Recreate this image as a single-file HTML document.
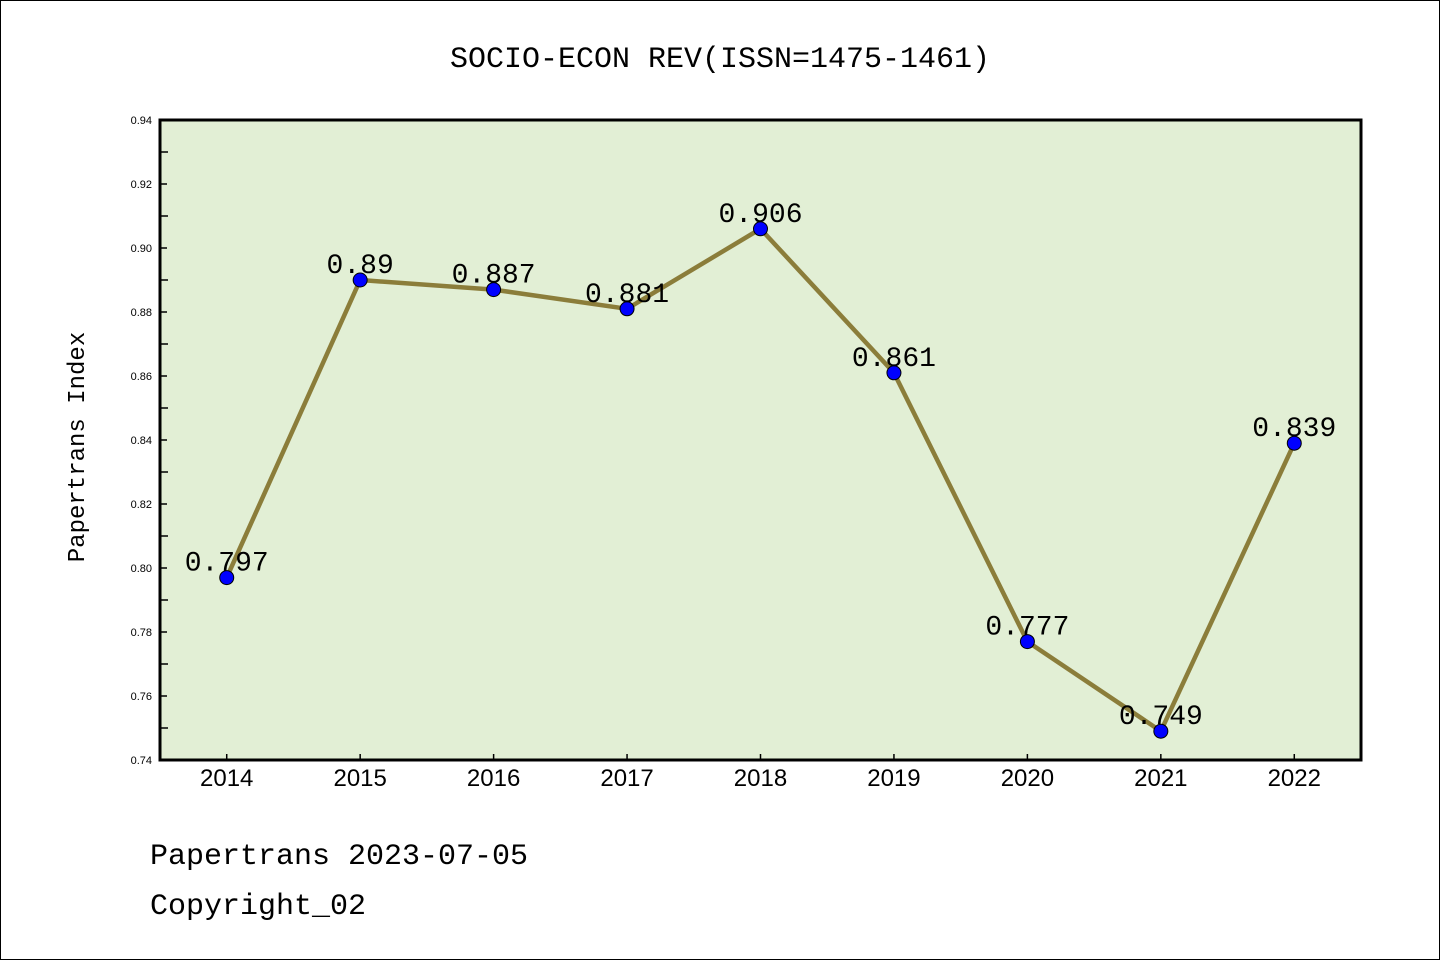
<!DOCTYPE html>
<html><head><meta charset="utf-8"><style>
body{margin:0;background:#fff}
svg{display:block}
</style></head><body>
<svg width="1440" height="960" xmlns="http://www.w3.org/2000/svg">
<rect x="0.5" y="0.5" width="1439" height="959" fill="#fff" stroke="#000" stroke-width="1"/>
<text x="720" y="67" text-anchor="middle" font-family="'WenQuanYi Zen Hei','Liberation Mono',monospace" font-size="30">SOCIO-ECON REV(ISSN=1475-1461)</text>
<rect x="160" y="120" width="1201" height="640" fill="#e2efd5"/>
<g id="ticks"></g>
<g id="series"></g>
<rect x="160" y="120" width="1201" height="640" fill="none" stroke="#000" stroke-width="3"/>
<text transform="translate(84,447) rotate(-90)" text-anchor="middle" font-family="'WenQuanYi Zen Hei','Liberation Mono',monospace" font-size="24">Papertrans Index</text>
<text x="150" y="864" font-family="'WenQuanYi Zen Hei','Liberation Mono',monospace" font-size="30">Papertrans 2023-07-05</text>
<text x="150" y="914" font-family="'WenQuanYi Zen Hei','Liberation Mono',monospace" font-size="30">Copyright_02</text>
</svg>
<script>
const categories=["2014","2015","2016","2017","2018","2019","2020","2021","2022"];
const values=[0.797,0.89,0.887,0.881,0.906,0.861,0.777,0.749,0.839];
const valueLabels=["0.797","0.89","0.887","0.881","0.906","0.861","0.777","0.749","0.839"];
const yTicks=[0.74,0.76,0.78,0.80,0.82,0.84,0.86,0.88,0.90,0.92,0.94];
const yTickLabels=["0.74","0.76","0.78","0.80","0.82","0.84","0.86","0.88","0.90","0.92","0.94"];
const NS="http://www.w3.org/2000/svg";
const L=160,R=1361,T=120,B=760,yMin=0.74,yMax=0.94;
const step=(R-L)/categories.length;
const xs=i=>L+step*(i+0.5);
const ys=v=>B-(v-yMin)/(yMax-yMin)*(B-T);
function mk(tag,attrs,parent){const e=document.createElementNS(NS,tag);for(const k in attrs)e.setAttribute(k,attrs[k]);parent.appendChild(e);return e;}
const tg=document.getElementById('ticks'),sg=document.getElementById('series');
yTicks.forEach((v,i)=>{
  const y=ys(v);
  const t=mk('line',{x1:L,x2:L+7,y1:y,y2:y,stroke:'#000','stroke-width':1.5},tg);
  
  
  const lb=mk('text',{x:L-8,y:y+4,'text-anchor':'end','font-family':'Liberation Sans,sans-serif','font-size':11},tg);
  lb.textContent=yTickLabels[i];
  
  
  if(i<yTicks.length-1){
    const ym=ys(v+(yMax-yMin)/(yTicks.length-1)/2);
    const m=mk('line',{x1:L,x2:L+8,y1:ym,y2:ym,stroke:'#000','stroke-width':1.5},tg);
    
    
  }
});
categories.forEach((c,i)=>{
  const x=xs(i);
  const t=mk('line',{x1:x,x2:x,y1:B,y2:B-6,stroke:'#000','stroke-width':1.5},tg);
  
  
  const lb=mk('text',{x:x,y:B+26,'text-anchor':'middle','font-family':'Liberation Sans,sans-serif','font-size':24},tg);
  lb.textContent=c;
  
  
});
const line=mk('polyline',{points:values.map((v,i)=>xs(i)+','+ys(v)).join(' '),fill:'none',stroke:'#8b7d3a','stroke-width':4.5},sg);


values.forEach((v,i)=>{
  const p=mk('circle',{cx:xs(i),cy:ys(v),r:7,fill:'#0000ff',stroke:'#000','stroke-width':1},sg);
  
  
  const lb=mk('text',{x:xs(i),y:ys(v)-7,'text-anchor':'middle','font-family':"'WenQuanYi Zen Hei','Liberation Mono',monospace",'font-size':28},sg);
  lb.textContent=valueLabels[i];
  
  
});
</script>
</body></html>
